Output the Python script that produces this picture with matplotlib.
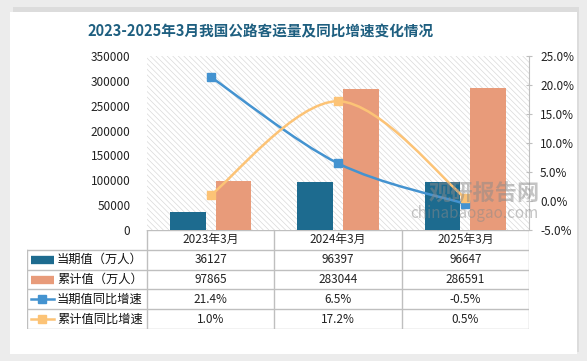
import numpy as np
import matplotlib.pyplot as plt
from matplotlib.patches import Rectangle, Path, PathPatch

plt.rcParams['font.family'] = ['Noto Sans CJK SC', 'DejaVu Sans']
plt.rcParams['hatch.linewidth'] = 0.5

# datos
categorias = ['2023年3月', '2024年3月', '2025年3月']
dangqi = [36127, 96397, 96647]          # 当期值（万人）
leiji = [97865, 283044, 286591]         # 累计值（万人）
dangqi_tb = [21.4, 6.5, -0.5]           # 当期值同比增速 %
leiji_tb = [1.0, 17.2, 0.5]             # 累计值同比增速 %

c_dq = '#1d6b8f'
c_lj = '#e89b7a'
c_dq_l = '#4493d0'
c_lj_l = '#fcc376'

W, H = 587, 361
fig = plt.figure(figsize=(W / 100, H / 100), dpi=100, facecolor='#ececec')

# tarjeta blanca
fig.patches.append(Rectangle((13 / W, 9 / H), 566 / W, 345 / H, transform=fig.transFigure,
                             facecolor='#dcdcdc', edgecolor='none', zorder=-20))
fig.patches.append(Rectangle((10 / W, 7 / H), 567 / W, 342 / H, transform=fig.transFigure,
                             facecolor='white', edgecolor='none', zorder=-10))

fig.text(261 / W, 1 - 31 / H, '2023-2025年3月我国公路客运量及同比增速变化情况',
         ha='center', va='center', fontsize=10.5, fontweight='bold', color='#1e5f80')

x0, x1, ytop, ybot = 147, 529, 56, 230
ax = fig.add_axes([x0 / W, 1 - ybot / H, (x1 - x0) / W, (ybot - ytop) / H])
ax.set_facecolor('none')
ax.add_patch(Rectangle((0, 0), 1, 1, transform=ax.transAxes, facecolor='white',
                       edgecolor='#d9d9d9', hatch='\\\\\\\\\\\\', linewidth=0, zorder=0))

x = np.arange(len(categorias))
bw = 0.28
ax.bar(x - bw / 2 - 0.04, dangqi, bw, color=c_dq, zorder=2)
ax.bar(x + bw / 2 + 0.04, leiji, bw, color=c_lj, zorder=2)
ax.set_xlim(-0.5, 2.5)
ax.set_ylim(0, 350000)
ax.set_yticks(np.arange(0, 350001, 50000))
ax.set_yticklabels([str(v) for v in range(0, 350001, 50000)])
ax.tick_params(axis='y', length=0, labelsize=8.5, pad=12, colors='#222222')
ax.set_xticks([])
for s in ax.spines.values():
    s.set_visible(False)

ax2 = ax.twinx()
ax2.set_ylim(-5, 25)
ax2.set_yticks(np.arange(-5, 26, 5))
ax2.set_yticklabels(['%.1f%%' % v for v in np.arange(-5, 26, 5)])
ax2.tick_params(axis='y', length=4, direction='inout', colors='#bfbfbf', labelcolor='#222222',
                labelsize=8.5, pad=6)
for k in ['top', 'left', 'bottom']:
    ax2.spines[k].set_visible(False)
ax2.spines['right'].set_color('#bfbfbf')


def curva_suave(xs, ys):
    pts = np.column_stack([xs, ys]).astype(float)
    p = np.vstack([pts[0], pts, pts[-1]])
    verts = [pts[0]]
    codes = [Path.MOVETO]
    for i in range(1, len(p) - 2):
        c1 = p[i] + (p[i + 1] - p[i - 1]) / 6
        c2 = p[i + 1] - (p[i + 2] - p[i]) / 6
        verts += [c1, c2, p[i + 1]]
        codes += [Path.CURVE4] * 3
    return Path(verts, codes)


for vals, col in [(dangqi_tb, c_dq_l), (leiji_tb, c_lj_l)]:
    ax2.add_patch(PathPatch(curva_suave(x, vals), facecolor='none', edgecolor=col, lw=1.8, zorder=3))
    ax2.plot(x, vals, 's', color=col, ms=6, zorder=4)

# marca de agua
fig.text(484 / W, 1 - 194 / H, '观研报告网', fontsize=16, fontweight='bold', color='#8a8a8a',
         alpha=0.5, ha='center', va='center')
fig.text(474 / W, 1 - 213 / H, 'chinabaogao.com', fontsize=11, color='#8a8a8a',
         alpha=0.5, ha='center', va='center')

# tabla
tl, tb = 27, 329
axt = fig.add_axes([tl / W, 1 - tb / H, (x1 - tl) / W, (tb - ybot) / H])
axt.axis('off')
colw = (x1 - x0) / 3
xl = -0.5 - (x0 - tl) / colw
axt.set_xlim(xl, 2.5)
axt.set_ylim(5, 0)
lc = '#bfbfbf'
axt.plot([-0.5, 2.5], [0, 0], color=lc, lw=1)
for r in range(1, 6):
    axt.plot([xl, 2.5], [r, r], color=lc, lw=1)
for xv in [-0.5, 0.5, 1.5, 2.5]:
    axt.plot([xv, xv], [0, 5], color=lc, lw=1)
axt.plot([xl, xl], [1, 5], color=lc, lw=1)

for i, c in enumerate(categorias):
    axt.text(i, 0.5, c, ha='center', va='center', fontsize=8.5, color='#222222')
filas = [
    ('当期值（万人）', [str(v) for v in dangqi], c_dq, 'bar'),
    ('累计值（万人）', [str(v) for v in leiji], c_lj, 'bar'),
    ('当期值同比增速', ['%.1f%%' % v for v in dangqi_tb], c_dq_l, 'line'),
    ('累计值同比增速', ['%.1f%%' % v for v in leiji_tb], c_lj_l, 'line'),
]
sw0 = xl + 4 / colw
sw1 = xl + 27 / colw
for r, (nombre, vals, col, tipo) in enumerate(filas, start=1):
    yc = r + 0.5
    if tipo == 'bar':
        axt.plot([sw0, sw1], [yc, yc], color=col, lw=6, solid_capstyle='butt')
    else:
        axt.plot([sw0, sw1], [yc, yc], color=col, lw=1.8)
        axt.plot([(sw0 + sw1) / 2], [yc], 's', color=col, ms=6)
    axt.text(xl + 30 / colw, yc, nombre, ha='left', va='center', fontsize=8.8, color='#111111')
    for i, v in enumerate(vals):
        axt.text(i, yc, v, ha='center', va='center', fontsize=8.5, color='#222222')

fig.savefig('out.png', dpi=100, facecolor=fig.get_facecolor())
